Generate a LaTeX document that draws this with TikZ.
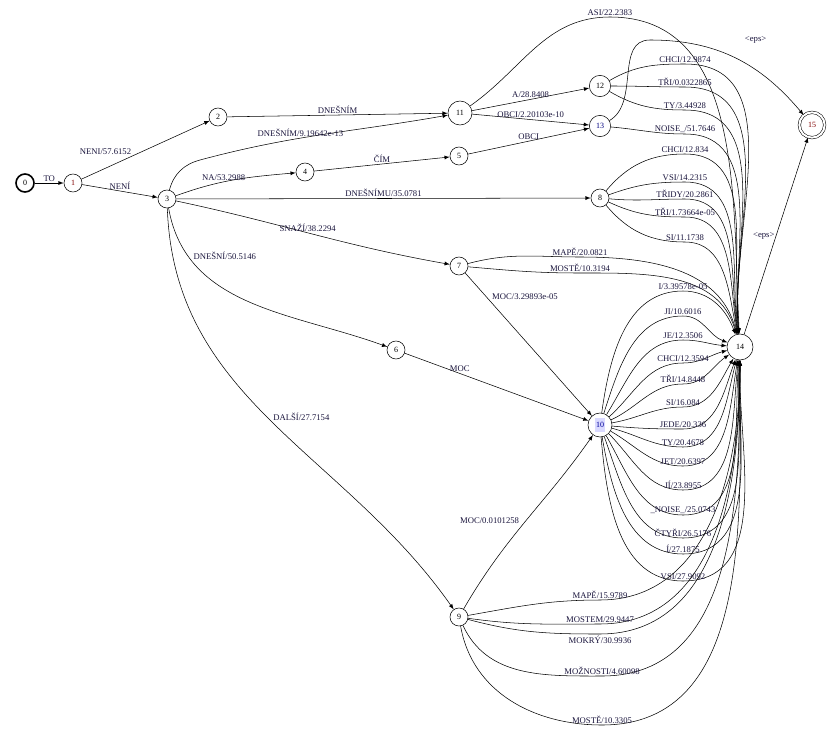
\documentclass[tikz,border=0pt]{standalone}
\usepackage{fontspec}
\setmainfont{Liberation Serif}
\begin{document}
\begin{tikzpicture}[x=0.75pt,y=-0.75pt,
  st/.style={circle,draw,thin,minimum size=13.5pt,inner sep=0pt,font=\fontsize{6}{7}\selectfont},
  big/.style={st,minimum size=18pt},
  e/.style={-latex,thin},
  lbl/.style={font=\fontsize{6.5}{7.5}\selectfont,text=lab,inner sep=1pt}]
\definecolor{lab}{RGB}{25,20,60}
\useasboundingbox (0,0) rectangle (830,735);
\node[st,very thick] (0) at (25,183) {0};
\node[st,text=red!50!black] (1) at (73,183) {1};
\node[st] (2) at (218,117) {2};
\node[st] (3) at (167,199) {3};
\node[st] (4) at (305,172) {4};
\node[st] (5) at (459,156) {5};
\node[st] (6) at (396,350) {6};
\node[st] (7) at (459,266) {7};
\node[st] (8) at (600,198) {8};
\node[st] (9) at (459,617) {9};
\node[big] (10) at (600,425) {\colorbox{blue!15}{\kern-2pt\textcolor{blue!60!black}{10}\kern-2pt}};
\node[big] (11) at (460,113) {11};
\node[st,minimum size=16pt] (12) at (600,86) {12};
\node[st,minimum size=16pt,text=blue!50!black] (13) at (600,126) {13};
\node[st,minimum size=19.5pt] (14) at (740,347) {14};
\node[st,double,double distance=1.5pt,minimum size=19pt,text=red!50!black] (15) at (812,125) {15};
\newcommand\ed[7]{\draw[e] (#1) to[out=#2,in=180] (#3,#4) node[lbl,#7]{#6} to[out=0,in=#5] (14);}
\draw[e] (0) -- node[lbl,above]{TO} (1);
\draw[e] (1) -- node[lbl,above left,pos=0.4]{NENI/57.6152} (2);
\draw[e] (1) -- node[lbl,above]{NENÍ} (3);
\draw[e] (2) -- node[lbl,above]{DNEŠNÍM} (11);
\draw[e] (3) to[out=75,in=195] (200,160) to[out=15,in=190] node[lbl,above,pos=0.4]{DNEŠNÍM/9.19642e-13} (11);
\draw[e] (3) to[out=20,in=185] node[lbl,above,pos=0.4]{NA/53.2988} (4);
\draw[e] (4) -- node[lbl,above]{ČÍM} (5);
\draw[e] (5) -- node[lbl,above]{OBCI} (13);
\draw[e] (3) -- node[lbl,above,pos=0.5]{DNEŠNÍMU/35.0781} (8);
\draw[e] (3) to[out=-12,in=170] node[lbl,above,pos=0.48]{SNAŽÍ/38.2294} (7);
\draw[e] (3) to[out=-80,in=160] node[lbl,above right,pos=0.22]{DNEŠNÍ/50.5146} (6);
\draw[e] (3) to[out=-88,in=125] node[lbl,above right,pos=0.5]{DALŠÍ/27.7154} (9);
\draw[e] (7) -- node[lbl,above right,pos=0.2]{MOC/3.29893e-05} (10);
\draw[e] (6) -- node[lbl,above,pos=0.3]{MOC} (10);
\draw[e] (9) to[out=60,in=235] node[lbl,left,pos=0.5,xshift=-4pt]{MOC/0.0101258} (10);
\draw[e] (11) -- node[lbl,above]{A/28.8408} (12);
\draw[e] (11) -- node[lbl,above]{OBCI/2.20103e-10} (13);
\draw[e] (13) to[out=30,in=180] (650,40) node[lbl,above right,xshift=70pt,yshift=-4pt]{<eps>} to[out=0,in=130] (15);
\draw[e] (14) -- node[lbl,left,pos=0.5]{<eps>} (15);
% into 14 from above
\ed{11}{35}{610}{17}{93}{ASI/22.2383}{above}
\ed{12}{30}{685}{64}{95}{CHCI/12.9874}{above}
\ed{12}{0}{685}{87}{95}{TŘI/0.0322865}{above}
\ed{12}{-30}{685}{110}{95}{TY/3.44928}{above}
\ed{13}{-5}{685}{134}{95}{NOISE\_/51.7646}{above}
\ed{8}{50}{685}{154}{97}{CHCI/12.834}{above}
\ed{8}{20}{685}{182}{98}{VSI/14.2315}{above}
\ed{8}{-5}{685}{199}{99}{TŘIDY/20.2861}{above}
\ed{8}{-25}{685}{217}{100}{TŘI/1.73664e-05}{above}
\ed{8}{-50}{685}{242}{102}{SI/11.1738}{above}
\ed{7}{15}{580}{257}{104}{MAPĚ/20.0821}{above}
\ed{7}{-5}{580}{273}{106}{MOSTĚ/10.3194}{above}
% from 10
\ed{10}{82}{683}{291}{110}{I/3.39578e-05}{above}
\ed{10}{72}{683}{316}{160}{JI/10.6016}{above}
\ed{10}{58}{683}{340}{175}{JE/12.3506}{above}
\ed{10}{42}{683}{363}{195}{CHCI/12.3594}{above}
\ed{10}{25}{683}{384}{215}{TŘI/14.8448}{above}
\ed{10}{10}{683}{407}{240}{SI/16.084}{above}
\ed{10}{-5}{683}{429}{-110}{JEDE/20.336}{above}
\ed{10}{-15}{683}{447}{-105}{TY/20.4678}{above}
\ed{10}{-30}{683}{466}{-100}{JET/20.6397}{above}
\ed{10}{-45}{683}{490}{-97}{JÍ/23.8955}{above}
\ed{10}{-60}{683}{515}{-95}{\_NOISE\_/25.0743}{above}
\ed{10}{-70}{683}{538}{-93}{ČTYŘI/26.5176}{above}
\ed{10}{-80}{683}{554}{-92}{Í/27.1875}{above}
\ed{10}{-85}{683}{581}{-91}{VSI/27.9092}{above}
% from 9
\ed{9}{10}{600}{600}{-90}{MAPĚ/15.9789}{above}
\ed{9}{-8}{600}{624}{-90}{MOSTEM/29.9447}{above}
\ed{9}{-15}{600}{634}{-90}{MOKRÝ/30.9936}{below}
\ed{9}{-65}{602}{676}{-90}{MOŽNOSTI/4.60098}{above}
\ed{9}{-80}{602}{725}{-90}{MOSTĚ/10.3305}{above}
\end{tikzpicture}
\end{document}
